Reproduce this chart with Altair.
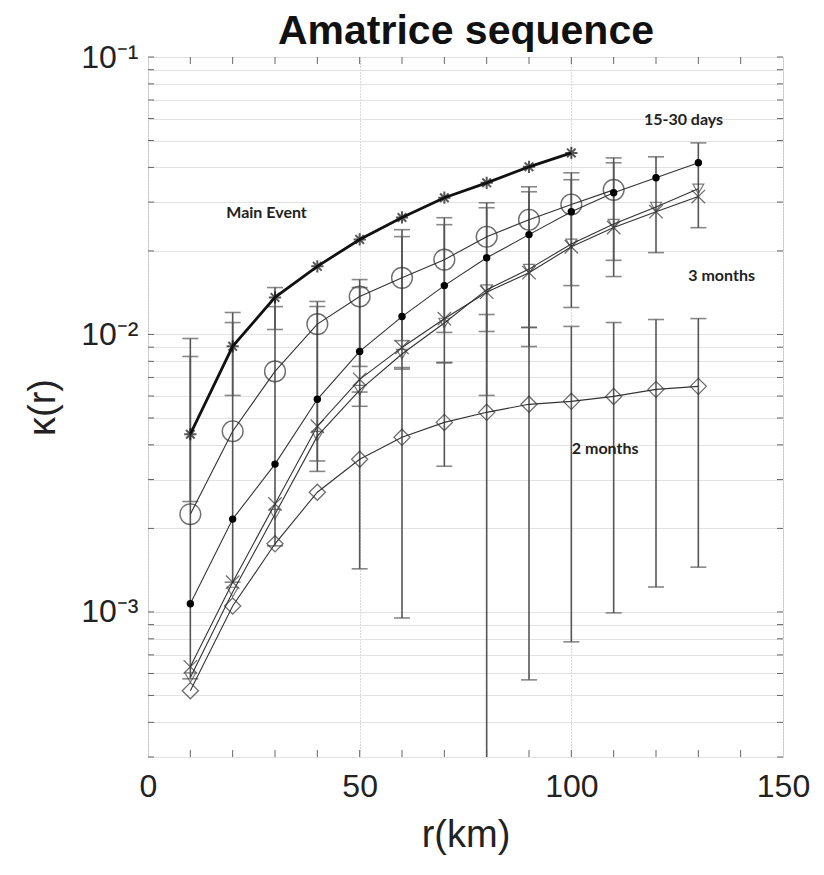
import altair as alt
import pandas as pd

# ---------------- data ----------------
title_text = "Amatrice sequence"
r_all = [10, 20, 30, 40, 50, 60, 70, 80, 90, 100, 110, 120, 130]

main_r = [10, 20, 30, 40, 50, 60, 70, 80, 90, 100]
main_k = [0.00437, 0.00906, 0.0136, 0.0176, 0.0220, 0.0264, 0.0311, 0.0352, 0.0402, 0.0451]

circ_r = [10, 20, 30, 40, 50, 60, 70, 80, 90, 100, 110]
circ_k = [0.00225, 0.00448, 0.00736, 0.0109, 0.0137, 0.0160, 0.0186, 0.0225, 0.0259, 0.0294, 0.0332]

dot_r = r_all
dot_k = [0.00107, 0.00216, 0.00341, 0.00584, 0.00869, 0.0116, 0.0150, 0.0189, 0.0229, 0.0277, 0.0324, 0.0367, 0.0416]

cross_r = r_all
cross_k = [0.000634, 0.00128, 0.00245, 0.00467, 0.00689, 0.00898, 0.0114, 0.0142, 0.0167, 0.0207, 0.0243, 0.0277, 0.0314]

tri_r = r_all
tri_k = [0.00058, 0.00118, 0.00225, 0.0043, 0.0063, 0.0085, 0.0110, 0.0145, 0.0172, 0.0212, 0.0250, 0.0288, 0.0335]

diam_r = r_all
diam_k = [0.00052, 0.00105, 0.00176, 0.0027, 0.00355, 0.00426, 0.00482, 0.00524, 0.0056, 0.00574, 0.00598, 0.00634, 0.0065]

# error bars (lower, upper)
bar_r = [10, 20, 30,
         10, 20, 30, 40, 50, 60, 70, 80, 90, 100, 110,
         40, 50, 60, 70, 80, 90, 100, 110, 120, 130,
         50, 60, 70, 80, 90, 100, 110, 120, 130]
bar_lo = [0.0025, 0.00603, 0.01042,
          0.000574, 0.00128, 0.00173, 0.00321, 0.00767, 0.0095, 0.01017, 0.01025, 0.0106, 0.01251, 0.01617,
          0.0035, 0.00551, 0.0075, 0.00793, 0.00603, 0.00905, 0.0150, 0.0185, 0.01972, 0.02426,
          0.00143, 0.000951, 0.00335, 0.00001, 0.000569, 0.00078, 0.000992, 0.00123, 0.00145]
bar_hi = [0.00833, 0.0120, 0.01476,
          0.00967, 0.01104, 0.0126, 0.01315, 0.01577, 0.02386, 0.02635, 0.02983, 0.03406, 0.03826, 0.0433,
          0.01261, 0.01476, 0.02252, 0.02487, 0.02862, 0.03268, 0.03611, 0.04157, 0.04367, 0.04903,
          0.0062, 0.0076, 0.0079, 0.0118, 0.0106, 0.01069, 0.01104, 0.01132, 0.01141]

label_text = ["Main Event", "15-30 days", "3 months", "2 months"]
label_r = [28, 126.5, 135.5, 108]
label_k = [0.0275, 0.0593, 0.0162, 0.00386]

y_ticks = [0.0003, 0.0004, 0.0005, 0.0006, 0.0007, 0.0008, 0.0009,
           0.001, 0.002, 0.003, 0.004, 0.005, 0.006, 0.007, 0.008, 0.009,
           0.01, 0.02, 0.03, 0.04, 0.05, 0.06, 0.07, 0.08, 0.09, 0.1]
x_ticks = [0, 50, 100, 150]
x_minor = [10, 20, 30, 40, 50, 60, 70, 80, 90, 100, 110, 120, 130, 140]

# ---------------- tables ----------------
def series(name, rs, ks):
    return pd.DataFrame({"r": rs, "k": ks, "series": name})

lines_df = pd.concat([
    series("circles", circ_r, circ_k),
    series("dots", dot_r, dot_k),
    series("crosses", cross_r, cross_k),
    series("triangles", tri_r, tri_k),
    series("diamonds", diam_r, diam_k),
])
main_df = series("main", main_r, main_k)
err_df = pd.DataFrame({"r": bar_r, "lo": bar_lo, "hi": bar_hi})
lab_df = pd.DataFrame({"r": label_r, "k": label_k, "t": label_text})
xm_df = pd.DataFrame({"r": x_minor})
ym_df = pd.DataFrame({"k": y_ticks})
title_df = pd.DataFrame({"t": [title_text]})

FONT = "Liberation Sans"
xscale = alt.Scale(domain=[0, 150], nice=False)
yscale = alt.Scale(type="log", domain=[0.0003, 0.1], nice=False)

xaxis = alt.Axis(values=x_ticks, title="r(km)", grid=True, gridColor="#b0b0b0",
                 gridDash=[1, 2], gridWidth=1, ticks=False, domain=False,
                 labelFontSize=32, titleFontSize=38, labelFont=FONT, titleFont=FONT,
                 labelColor="#222", titleColor="#222", titleFontWeight="normal",
                 labelPadding=14, titlePadding=14, labelFlush=False)
yaxis = alt.Axis(values=y_ticks, title="κ(r)", grid=True, gridColor="#e2e2e2",
                 gridWidth=1, ticks=False, domain=False,
                 labelExpr="datum.value == 0.1 ? '10⁻¹' : (datum.value == 0.01 ? '10⁻²' : (datum.value == 0.001 ? '10⁻³' : ''))",
                 labelFontSize=32, titleFontSize=38, labelFont=FONT, titleFont=FONT,
                 labelColor="#222", titleColor="#222", titleFontWeight="normal",
                 labelPadding=10, titlePadding=18, labelFlush=False)


def X(field="r"):
    return alt.X(f"{field}:Q", scale=xscale, axis=xaxis, title="r(km)")


def Y(field="k"):
    return alt.Y(f"{field}:Q", scale=yscale, axis=yaxis, title="κ(r)")


TC = "#666666"
xt_bot = alt.Chart(xm_df).mark_rule(color=TC, strokeWidth=1).encode(x=X(), y=alt.value(693), y2=alt.value(700))
xt_top = alt.Chart(xm_df).mark_rule(color=TC, strokeWidth=1).encode(x=X(), y=alt.value(0), y2=alt.value(7))
yt_left = alt.Chart(ym_df).mark_rule(color=TC, strokeWidth=1).encode(y=Y(), x=alt.value(0), x2=alt.value(6))
yt_right = alt.Chart(ym_df).mark_rule(color=TC, strokeWidth=1).encode(y=Y(), x=alt.value(629), x2=alt.value(635))

EC = "#555555"
rules = alt.Chart(err_df).mark_rule(color=EC, strokeWidth=1.6, clip=True).encode(
    x=X(), y=Y("lo"), y2="hi:Q")
cap_lo = alt.Chart(err_df).mark_tick(orient="horizontal", size=16, thickness=1.6, color=EC, clip=True).encode(
    x=X(), y=Y("lo"))
cap_hi = alt.Chart(err_df).mark_tick(orient="horizontal", size=16, thickness=1.6, color=EC, clip=True).encode(
    x=X(), y=Y("hi"))

thin = alt.Chart(lines_df).mark_line(color="#333", strokeWidth=1.1).encode(
    x=X(), y=Y(), detail="series:N")
thick = alt.Chart(main_df).mark_line(color="#111", strokeWidth=2.8).encode(x=X(), y=Y())


def pts(name, **kw):
    return alt.Chart(lines_df).transform_filter(alt.datum.series == name).mark_point(**kw).encode(x=X(), y=Y())


p_circ = pts("circles", shape="circle", filled=False, size=430, color="#333", strokeWidth=1.4)
p_dot = pts("dots", shape="circle", filled=True, size=55, color="#000", opacity=1)
p_cross = pts("crosses", shape="M-1,-1L1,1M-1,1L1,-1", filled=False, size=180, color="#333", strokeWidth=1.3)
p_tri = pts("triangles", shape="triangle-down", filled=False, size=120, color="#444", strokeWidth=1.2)
p_diam = pts("diamonds", shape="diamond", filled=False, size=260, color="#333", strokeWidth=1.3)
p_main = alt.Chart(main_df).mark_point(
    shape="M-1,0L1,0M0,-1L0,1M-0.7,-0.7L0.7,0.7M-0.7,0.7L0.7,-0.7",
    filled=False, size=150, color="#111", strokeWidth=2).encode(x=X(), y=Y())

texts = alt.Chart(lab_df).mark_text(font="Lato", fontWeight="bold", fontSize=16, color="#222",
                                    align="center", baseline="middle").encode(
    x=X(), y=Y(), text="t:N")

title = alt.Chart(title_df).mark_text(font=FONT, fontWeight="bold", fontSize=41, color="#111",
                                      align="center", baseline="alphabetic").encode(
    x=alt.value(318), y=alt.value(-13), text="t:N")

chart = alt.layer(xt_bot, xt_top, yt_left, yt_right, rules, cap_lo, cap_hi, thin, thick,
                  p_circ, p_dot, p_cross, p_tri, p_diam, p_main, texts, title).properties(
    width=635, height=700,
    autosize=alt.AutoSizeParams(type="none"),
    padding={"left": 140, "top": 49, "right": 33, "bottom": 110},
).configure_view(stroke="#4a4a4a", strokeWidth=1.6).configure(background="white")

chart.save("out.html", embed_options={"renderer": "svg", "actions": False})
